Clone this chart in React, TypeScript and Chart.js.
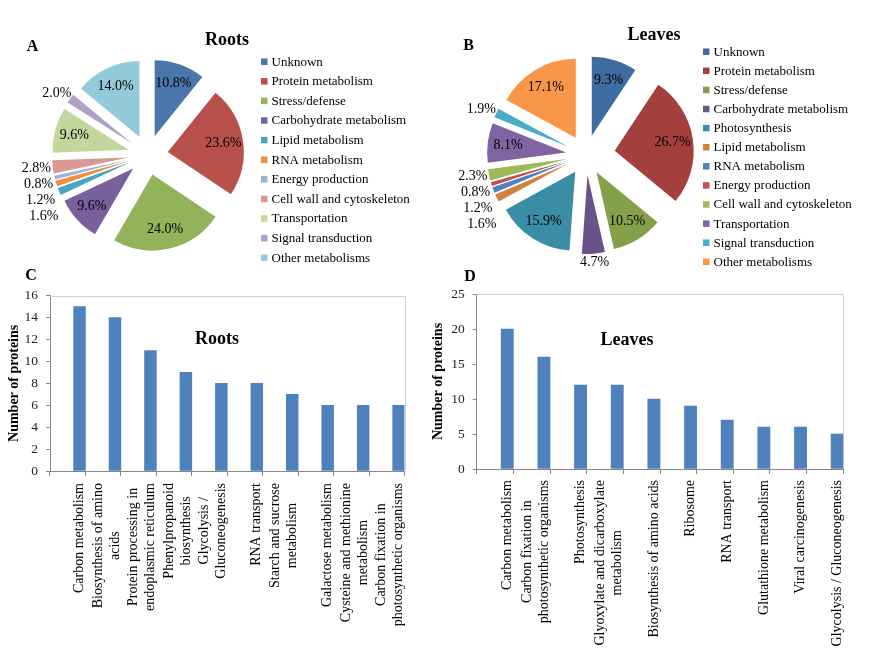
import React, { useEffect, useRef } from "react";
import { Chart, registerables } from "chart.js";

Chart.register(...registerables);

const SERIF = '"Liberation Serif", "Times New Roman", serif';

// ---------- Data ----------
const rootCategories = [
  "Unknown",
  "Protein metabolism",
  "Stress/defense",
  "Carbohydrate metabolism",
  "Lipid metabolism",
  "RNA metabolism",
  "Energy production",
  "Cell wall and cytoskeleton",
  "Transportation",
  "Signal transduction",
  "Other metabolisms",
];
const rootShares = [10.8, 23.6, 24.0, 9.6, 1.6, 1.2, 0.8, 2.8, 9.6, 2.0, 14.0];

const leafCategories = [
  "Unknown",
  "Protein metabolism",
  "Stress/defense",
  "Carbohydrate metabolism",
  "Photosynthesis",
  "Lipid metabolism",
  "RNA metabolism",
  "Energy production",
  "Cell wall and cytoskeleton",
  "Transportation",
  "Signal transduction",
  "Other metabolisms",
];
const leafShares = [9.3, 26.7, 10.5, 4.7, 15.9, 1.6, 1.2, 0.8, 2.3, 8.1, 1.9, 17.1];

const rootPathways: (string | string[])[] = [
  "Carbon metabolism",
  ["Biosynthesis of amino", "acids"],
  ["Protein processing in", "endoplasmic reticulum"],
  ["Phenylpropanoid", "biosynthesis"],
  ["Glycolysis /", "Gluconeogenesis"],
  "RNA transport",
  ["Starch and sucrose", "metabolism"],
  "Galactose metabolism",
  ["Cysteine and methionine", "metabolism"],
  ["Carbon fixation in", "photosynthetic organisms"],
];
const rootCounts = [15, 14, 11, 9, 8, 8, 7, 6, 6, 6];
const rootAxisMax = 16;
const rootAxisStep = 2;

const leafPathways: (string | string[])[] = [
  "Carbon metabolism",
  ["Carbon fixation in", "photosynthetic organisms"],
  "Photosynthesis",
  ["Glyoxylate and dicarboxylate", "metabolism"],
  "Biosynthesis of amino acids",
  "Ribosome",
  "RNA transport",
  "Glutathione metabolism",
  "Viral carcinogenesis",
  "Glycolysis / Gluconeogenesis",
];
const leafCounts = [20, 16, 12, 12, 10, 9, 7, 6, 6, 5];
const leafAxisMax = 25;
const leafAxisStep = 5;

// ---------- Styles ----------
const rootColors = [
  "#4a76ab", "#b8504c", "#93b35a", "#78609c", "#4aa6c0", "#ef8e45",
  "#9bb3d8", "#d99795", "#c3d69b", "#b1a0c6", "#93cbdb",
];
const leafColors = [
  "#3e6ba0", "#a3403d", "#84a14a", "#6b538a", "#3a8da4", "#d0833e",
  "#4f81bd", "#c0504d", "#9bbb59", "#8064a2", "#4bacc6", "#f79646",
];
// explosion distance (px) of each slice from the pie centre
const rootPull = [20, 20, 20, 20, 20, 20, 20, 20, 20, 20, 20];
const leafPull = [20, 29, 20, 20, 20, 20, 20, 20, 20, 20, 20, 20];
const BAR_COLOR = "#4f81bd";
const AXIS_COLOR = "#868686";
const BOX_COLOR = "#d0d0d0";

// ---------- Plugins ----------
type TextItem = { text: string; x: number; y: number; font: string };

function textsPlugin(items: TextItem[]) {
  return {
    id: "texts",
    afterDraw(chart: any) {
      const ctx = chart.ctx;
      ctx.save();
      ctx.fillStyle = "#000";
      ctx.textAlign = "center";
      ctx.textBaseline = "middle";
      items.forEach((it) => {
        ctx.font = it.font;
        ctx.fillText(it.text, it.x, it.y);
      });
      ctx.restore();
    },
  };
}

function explodePlugin(pull: number[]) {
  return {
    id: "explode",
    beforeDatasetDraw(chart: any, args: any) {
      const ctx = chart.ctx;
      args.meta.data.forEach((arc: any, i: number) => {
        const mid = (arc.startAngle + arc.endAngle) / 2;
        const d = pull[i] ?? 0;
        ctx.save();
        ctx.translate(Math.cos(mid) * d, Math.sin(mid) * d);
        arc.draw(ctx);
        ctx.restore();
      });
      return false;
    },
  };
}

function pieLabelsPlugin(pull: number[], insideFrac: number, minInside: number, spacing: number, font: string) {
  return {
    id: "pieLabels",
    afterDatasetsDraw(chart: any) {
      const ctx = chart.ctx;
      const meta = chart.getDatasetMeta(0);
      const values = chart.data.datasets[0].data as number[];
      ctx.save();
      ctx.font = font;
      ctx.fillStyle = "#000";
      ctx.textAlign = "center";
      ctx.textBaseline = "middle";
      const outside: { text: string; x: number; y: number; left: boolean }[] = [];
      meta.data.forEach((arc: any, i: number) => {
        const mid = (arc.startAngle + arc.endAngle) / 2;
        const dx = Math.cos(mid);
        const dy = Math.sin(mid);
        const d = pull[i] ?? 0;
        const text = values[i].toFixed(1) + "%";
        if (values[i] >= minInside) {
          const r = d + insideFrac * arc.outerRadius;
          ctx.fillText(text, arc.x + dx * r, arc.y + dy * r);
        } else {
          const w = ctx.measureText(text).width;
          const r = d + arc.outerRadius + 2;
          outside.push({
            text,
            x: arc.x + dx * r + (dx * w) / 2,
            y: arc.y + dy * r + dy * 7,
            left: dx < 0,
          });
        }
      });
      [true, false].forEach((side) => {
        const items = outside.filter((o) => o.left === side).sort((a, b) => a.y - b.y);
        for (let k = 1; k < items.length; k++) {
          if (items[k].y < items[k - 1].y + spacing) items[k].y = items[k - 1].y + spacing;
        }
      });
      outside.forEach((o) => ctx.fillText(o.text, o.x, o.y));
      ctx.restore();
    },
  };
}

function legendPlugin(x: number, y: number, step: number, box: number, gap: number, font: string) {
  return {
    id: "sideLegend",
    afterDraw(chart: any) {
      const ctx = chart.ctx;
      const labels = chart.data.labels as string[];
      const colors = chart.data.datasets[0].backgroundColor as string[];
      ctx.save();
      ctx.font = font;
      ctx.textAlign = "left";
      ctx.textBaseline = "middle";
      labels.forEach((lab, i) => {
        const cy = y + i * step;
        ctx.fillStyle = colors[i];
        ctx.fillRect(x, cy - box / 2, box, box);
        ctx.fillStyle = "#000";
        ctx.fillText(lab, x + box + gap, cy + 0.5);
      });
      ctx.restore();
    },
  };
}

const plotBoxPlugin = {
  id: "plotBox",
  beforeDatasetsDraw(chart: any) {
    const { left, top, right, bottom } = chart.chartArea;
    const ctx = chart.ctx;
    ctx.save();
    ctx.strokeStyle = BOX_COLOR;
    ctx.lineWidth = 1;
    ctx.beginPath();
    ctx.moveTo(left, Math.round(top) + 0.5);
    ctx.lineTo(Math.round(right) + 0.5, Math.round(top) + 0.5);
    ctx.lineTo(Math.round(right) + 0.5, bottom);
    ctx.stroke();
    ctx.restore();
  },
};

function barLabelsPlugin(gap: number, lineStep: number, font: string) {
  return {
    id: "barLabels",
    afterDraw(chart: any) {
      const ctx = chart.ctx;
      const meta = chart.getDatasetMeta(chart.data.datasets.length - 1);
      const labels = chart.data.labels as (string | string[])[];
      ctx.save();
      ctx.font = font;
      ctx.fillStyle = "#000";
      ctx.textAlign = "center";
      ctx.textBaseline = "middle";
      labels.forEach((lab, i) => {
        const lines = Array.isArray(lab) ? lab : [lab];
        const w = Math.max(...lines.map((l) => ctx.measureText(l).width));
        const bx = meta.data[i].x;
        const top = chart.chartArea.bottom + gap;
        ctx.save();
        ctx.translate(bx, top + w / 2);
        ctx.rotate(-Math.PI / 2);
        lines.forEach((l, k) => ctx.fillText(l, 0, -(lines.length - 1 - k) * lineStep));
        ctx.restore();
      });
      ctx.restore();
    },
  };
}

// ---------- Config builders ----------
function pieConfig(
  labels: string[],
  values: number[],
  colors: string[],
  pull: number[],
  radius: number,
  padding: any,
  texts: TextItem[],
  legend: [number, number, number]
): any {
  return {
    type: "pie",
    data: {
      labels,
      datasets: [{ data: values, backgroundColor: colors, borderWidth: 0, radius }],
    },
    options: {
      responsive: false,
      animation: false,
      events: [],
      layout: { padding },
      plugins: { legend: { display: false }, tooltip: { enabled: false } },
    },
    plugins: [
      explodePlugin(pull),
      pieLabelsPlugin(pull, 0.74, 5, 16, `14px ${SERIF}`),
      legendPlugin(legend[0], legend[1], legend[2], 6.5, 4, `13px ${SERIF}`),
      textsPlugin(texts),
    ],
  };
}

function barConfig(
  labels: (string | string[])[],
  values: number[],
  axisMax: number,
  axisStep: number,
  padding: any,
  yWidth: number,
  xHeight: number,
  texts: TextItem[],
  labelGap: number
): any {
  return {
    type: "bar",
    data: {
      labels,
      datasets: [
        { data: [], backgroundColor: BAR_COLOR },
        { data: [], backgroundColor: BAR_COLOR },
        { data: values, backgroundColor: BAR_COLOR },
      ],
    },
    options: {
      responsive: false,
      animation: false,
      events: [],
      layout: { padding },
      datasets: { bar: { categoryPercentage: 1, barPercentage: 1 } },
      plugins: { legend: { display: false }, tooltip: { enabled: false } },
      scales: {
        x: {
          type: "category",
          offset: true,
          grid: { offset: true, drawOnChartArea: false, drawTicks: true, tickLength: 5, color: AXIS_COLOR },
          border: { color: AXIS_COLOR },
          ticks: { display: false },
          afterFit: (s: any) => {
            s.height = xHeight;
          },
        },
        y: {
          min: 0,
          max: axisMax,
          ticks: { stepSize: axisStep, padding: 8, color: "#222", font: { family: SERIF, size: 13.5 } },
          grid: { drawOnChartArea: false, tickLength: 4, color: AXIS_COLOR },
          border: { color: AXIS_COLOR },
          title: {
            display: true,
            text: "Number of proteins",
            color: "#000",
            font: { family: SERIF, size: 14, weight: "bold" },
            padding: { top: 5.8, bottom: 0 },
          },
          afterFit: (s: any) => {
            s.width = yWidth;
          },
        },
      },
    },
    plugins: [plotBoxPlugin, barLabelsPlugin(labelGap, 17, `14px ${SERIF}`), textsPlugin(texts)],
  };
}

// ---------- Components ----------
function ChartCanvas(props: { left: number; top: number; width: number; height: number; make: () => any }) {
  const ref = useRef<HTMLCanvasElement | null>(null);
  useEffect(() => {
    if (!ref.current) return;
    const chart = new Chart(ref.current, props.make());
    return () => chart.destroy();
  }, []);
  return (
    <canvas
      ref={ref}
      width={props.width}
      height={props.height}
      style={{ position: "absolute", left: props.left, top: props.top, width: props.width, height: props.height }}
    />
  );
}

const BOLD18 = `bold 18px ${SERIF}`;
const BOLD16 = `bold 16px ${SERIF}`;

export default function App() {
  return (
    <div style={{ position: "absolute", left: 0, top: 0, width: 872, height: 670, background: "#fff", overflow: "hidden" }}>
      <ChartCanvas
        left={0}
        top={0}
        width={430}
        height={275}
        make={() =>
          pieConfig(
            rootCategories,
            rootShares,
            rootColors,
            rootPull,
            76,
            { left: 0, top: 35, right: 134, bottom: 0 },
            [
              { text: "A", x: 32.5, y: 47, font: BOLD16 },
              { text: "Roots", x: 227, y: 40, font: BOLD18 },
            ],
            [261, 61.7, 19.6]
          )
        }
      />
      <ChartCanvas
        left={436}
        top={0}
        width={436}
        height={275}
        make={() =>
          pieConfig(
            leafCategories,
            leafShares,
            leafColors,
            leafPull,
            79,
            { left: 0, top: 35, right: 136, bottom: 0 },
            [
              { text: "B", x: 32.5, y: 45.5, font: BOLD16 },
              { text: "Leaves", x: 218, y: 35, font: BOLD18 },
            ],
            [267, 51.7, 19.1]
          )
        }
      />
      <ChartCanvas
        left={0}
        top={262}
        width={436}
        height={408}
        make={() =>
          barConfig(
            rootPathways,
            rootCounts,
            rootAxisMax,
            rootAxisStep,
            { left: 0, top: 33.7, right: 31.5, bottom: 0 },
            50,
            199,
            [
              { text: "C", x: 31, y: 14, font: BOLD16 },
              { text: "Roots", x: 217, y: 77, font: BOLD18 },
            ],
            12
          )
        }
      />
      <ChartCanvas
        left={424}
        top={262}
        width={448}
        height={408}
        make={() =>
          barConfig(
            leafPathways,
            leafCounts,
            leafAxisMax,
            leafAxisStep,
            { left: 0, top: 32, right: 28.7, bottom: 0 },
            52.7,
            201,
            [
              { text: "D", x: 46, y: 15, font: BOLD16 },
              { text: "Leaves", x: 203, y: 78, font: BOLD18 },
            ],
            11
          )
        }
      />
    </div>
  );
}
